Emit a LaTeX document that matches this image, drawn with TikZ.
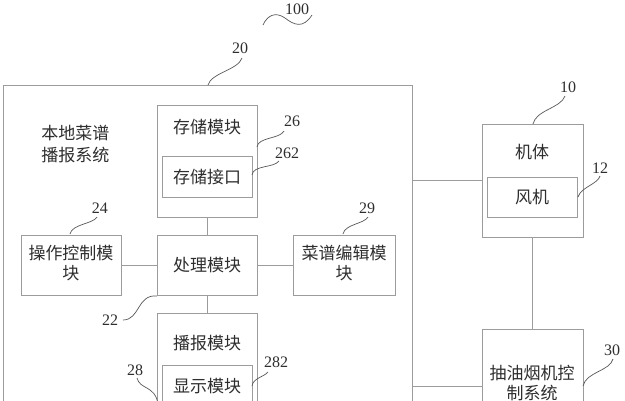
\documentclass[tikz,border=0pt]{standalone}
\usepackage{fontspec}
\setmainfont{Liberation Serif}
\newfontfamily\cjk{Noto Sans CJK SC}
\definecolor{linegray}{HTML}{9C9C9C}
\definecolor{txtcol}{HTML}{2E2E2E}
\begin{document}
\begin{tikzpicture}[x=1pt,y=-1pt,line width=0.8pt,
  box/.style={draw=linegray,inner sep=0pt},
  cjktext/.style={inner sep=0pt,text=txtcol,font=\cjk\fontsize{17}{20}\selectfont,align=center},
  num/.style={inner sep=0pt,text=txtcol,font=\fontsize{16}{18}\selectfont},
  conn/.style={draw=linegray},
  lead/.style={draw=txtcol!80,line width=0.7pt}]
\useasboundingbox (0,0) rectangle (625,400);
\clip (0,0) rectangle (625,400);
\fill[white] (0,0) rectangle (625,400);
% boxes
\node[box,minimum width=409,minimum height=435] (big) at (207.5,302.5) {};
\node[box,minimum width=100,minimum height=112] (stor) at (207,161) {};
\node[box,minimum width=90,minimum height=41] (storif) at (207,176.5) {};
\node[box,minimum width=100,minimum height=60] (proc) at (207,265) {};
\node[box,minimum width=100,minimum height=60] (op) at (71,265) {};
\node[box,minimum width=102,minimum height=60] (menu) at (344,265) {};
\node[box,minimum width=100,minimum height=150] (bc) at (207,388) {};
\node[box,minimum width=90,minimum height=60] (disp) at (207,395) {};
\node[box,minimum width=101,minimum height=113] (body) at (532.5,180.5) {};
\node[box,minimum width=90,minimum height=40] (fan) at (532,197) {};
\node[box,minimum width=101,minimum height=114] (ctrl) at (532.5,386) {};
% texts
\node[cjktext,anchor=west,align=left,font=\cjk\fontsize{17}{22}\selectfont] (tsys) at (41,144) {本地菜谱\\播报系统};
\node[cjktext] (tstor) at (207,127) {存储模块};
\node[cjktext] (tstorif) at (207,177) {存储接口};
\node[cjktext] (tproc) at (207,265) {处理模块};
\node[cjktext] (top) at (71,263) {操作控制模\\块};
\node[cjktext] (tmenu) at (344,263) {菜谱编辑模\\块};
\node[cjktext] (tbc) at (207,343) {播报模块};
\node[cjktext] (tdisp) at (207,386) {显示模块};
\node[cjktext] (tbody) at (532,152) {机体};
\node[cjktext] (tfan) at (532,197) {风机};
\node[cjktext] (tctrl) at (532,383) {抽油烟机控\\制系统};
% connectors
\draw[conn] (stor) -- (proc);
\draw[conn] (proc) -- (bc);
\draw[conn] (op) -- (proc);
\draw[conn] (proc) -- (menu);
\draw[conn] (body) -- (ctrl);
\draw[conn] (body.west) -- (body.west -| big.east);
\draw[conn] (ctrl.west) -- (ctrl.west -| big.east);
% reference numbers
\node[num] (n100) at (297,9) {100};
\node[num] (n20) at (240,48) {20};
\node[num] (n26) at (292,121) {26};
\node[num] (n262) at (287,153) {262};
\node[num] (n24) at (100,208) {24};
\node[num] (n29) at (367,208) {29};
\node[num] (n22) at (110,320) {22};
\node[num] (n28) at (135,370) {28};
\node[num] (n282) at (276,362) {282};
\node[num] (n10) at (568,87) {10};
\node[num] (n12) at (600,168) {12};
\node[num] (n30) at (612,350) {30};
% leader lines
\coordinate (w1) at (263,25);
\coordinate (w2) at (312,15);
\draw[lead] (w1) .. controls (267,16) and (275,11) .. (285,18) .. controls (294,25) and (303,29) .. (w2);
\coordinate (a20) at (208,85);   \coordinate (b20) at (242,58);
\draw[lead] (a20) .. controls +(3,-12) and +(-4,12) .. (b20);
\coordinate (a26) at (257,147);  \coordinate (b26) at (284,131);
\draw[lead] (a26) .. controls +(1,-10) and +(-4,8) .. (b26);
\coordinate (a262) at (252,175); \coordinate (b262) at (279,161);
\draw[lead] (a262) .. controls +(1,-10) and +(-5,7) .. (b262);
\coordinate (a24) at (70,234);   \coordinate (b24) at (97,217);
\draw[lead] (a24) .. controls +(2,-10) and +(-4,7) .. (b24);
\coordinate (a29) at (343,234);  \coordinate (b29) at (368,217);
\draw[lead] (a29) .. controls +(2,-10) and +(-4,7) .. (b29);
\coordinate (a22) at (157,296);  \coordinate (b22) at (123,320);
\draw[lead] (a22) .. controls (137,294) and (140,320) .. (b22);
\coordinate (a28) at (137,378);  \coordinate (b28) at (158,404);
\draw[lead] (a28) .. controls (140,390) and (155,385) .. (b28);
\coordinate (a282) at (252,386); \coordinate (b282) at (268,372);
\draw[lead] (a282) .. controls +(1,-8) and +(-4,5) .. (b282);
\coordinate (a10) at (533,124);  \coordinate (b10) at (565,96);
\draw[lead] (a10) .. controls +(3,-14) and +(-4,12) .. (b10);
\coordinate (a12) at (578,197);  \coordinate (b12) at (600,176);
\draw[lead] (a12) .. controls +(3,-10) and +(-2,8) .. (b12);
\coordinate (a30) at (583,386);  \coordinate (b30) at (613,359);
\draw[lead] (a30) .. controls +(3,-14) and +(-3,12) .. (b30);
\end{tikzpicture}
\end{document}
